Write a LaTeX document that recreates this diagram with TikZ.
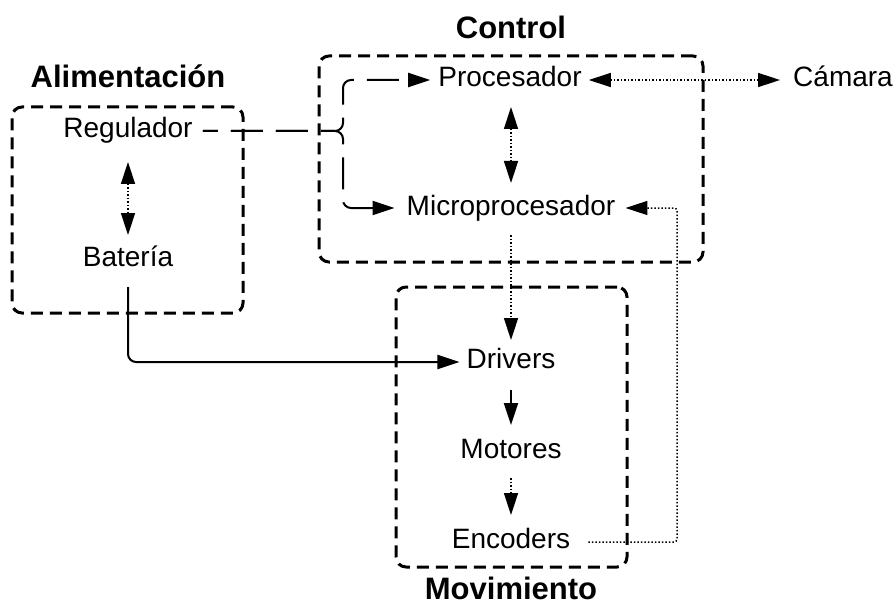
\documentclass[tikz,border=0pt]{standalone}
\usepackage{fontspec}
\setmainfont{Liberation Sans}
\usetikzlibrary{arrows.meta,calc}
\begin{document}
\begin{tikzpicture}[x=1pt,y=-1pt,
  lbl/.style={font=\fontsize{28}{32}\selectfont, inner sep=0pt, anchor=base},
  ttl/.style={font=\fontsize{31}{36}\selectfont\bfseries, inner sep=0pt, anchor=base},
  grp/.style={draw, line width=3pt, dash pattern=on 12pt off 7pt, rounded corners=10pt, inner sep=0pt},
  tip/.style={-{Triangle[length=22pt,width=14pt]}},
  dtip/.style={{Triangle[length=22pt,width=14pt]}-{Triangle[length=22pt,width=14pt]}},
  dots/.style={line width=1.5pt, dash pattern=on 1.5pt off 2pt},
  dash2/.style={line width=2pt, dash pattern=on 32pt off 13pt, dash phase=17pt},
  solid2/.style={line width=2pt}
]
\useasboundingbox (0,0) rectangle (896,604);
% groups
\node[grp, minimum width=231pt, minimum height=206pt] (galim) at (127.5,210) {};
\node[grp, minimum width=384pt, minimum height=206pt] (gctrl) at (511,159) {};
\node[grp, minimum width=231pt, minimum height=280pt] (gmov) at (511.5,427) {};
% titles
\node[ttl] (talim) at (128,88) {Alimentación};
\node[ttl] (tctrl) at (511,39) {Control};
\node[ttl] (tmov) at (511,599) {Movimiento};
% labels
\node[lbl] (reg) at (128,138) {Regulador};
\node[lbl] (bat) at (128,266) {Batería};
\node[lbl] (proc) at (510,87) {Procesador};
\node[lbl] (micro) at (511,215) {Microprocesador};
\node[lbl] (cam) at (843,87) {Cámara};
\node[lbl] (drv) at (511,368) {Drivers};
\node[lbl] (mot) at (511,458) {Motores};
\node[lbl] (enc) at (511,548) {Encoders};
% helper coordinates
\coordinate (j) at (343,131);
\coordinate (c) at (677,208);
% connectors
\draw[dots, dtip] ($(reg.base)+(0,24)$) -- ($(bat.base)+(0,-31)$);
\draw[dots, dtip] ($(proc.base)+(1,20)$) -- ($(micro.base)+(0,-32)$);
\draw[dots, dtip] ($(proc.base east)+(7,-7)$) -- ($(cam.base west)+(-13,-7)$);
\draw[dash2, tip, rounded corners=8pt] ($(reg.base east)+(10,-7)$) -- (j) |- ($(proc.base west)+(-8,-7)$);
\draw[dash2, tip, rounded corners=8pt] ($(reg.base east)+(10,-7)$) -- (j) |- ($(micro.base west)+(-12,-7)$);
\draw[dots, tip] ($(micro.base)+(0,20)$) -- ($(drv.base)+(0,-28)$);
\draw[solid2, tip, rounded corners=8pt] ($(bat.base)+(0,21)$) |- ($(drv.base west)+(-7,-6)$);
\draw[solid2, tip] ($(drv.base)+(0,22)$) -- ($(mot.base)+(0,-33)$);
\draw[dots, tip] ($(mot.base)+(0,20)$) -- ($(enc.base)+(0,-33)$);
\draw[dots, tip, rounded corners=3pt] ($(enc.base east)+(18,-6)$) -| (c) -- ($(micro.base east)+(10,-7)$);
\end{tikzpicture}
\end{document}
